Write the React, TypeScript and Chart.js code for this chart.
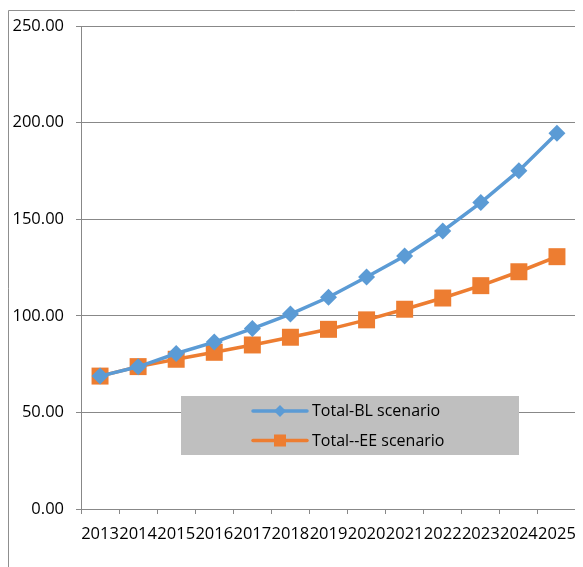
import { useEffect, useRef } from "react";
import { Chart, registerables } from "chart.js";

Chart.register(...registerables);

const years = ["2013", "2014", "2015", "2016", "2017", "2018", "2019", "2020", "2021", "2022", "2023", "2024", "2025"];
const blScenario = [68.8, 73.6, 80.5, 86.4, 93.4, 100.9, 109.6, 120.1, 131.0, 143.9, 158.6, 175.1, 194.5];
const eeScenario = [68.8, 73.7, 77.5, 81.1, 84.9, 88.9, 93.0, 97.9, 103.4, 109.2, 115.6, 122.8, 130.6];
const blLabel = "Total-BL scenario";
const eeLabel = "Total--EE scenario";

const BLUE = "#5b9bd5";
const ORANGE = "#ed7d31";
const GRID = "#888888";
const FONT = "'Open Sans', sans-serif";

// Frame around the chart and the grey legend panel inside the plot area.
const decorations = {
  id: "decorations",
  beforeDraw(chart: any) {
    const ctx = chart.ctx;
    ctx.save();
    ctx.strokeStyle = "#8f8f8f";
    ctx.lineWidth = 1;
    ctx.beginPath();
    ctx.moveTo(0.5, chart.height);
    ctx.lineTo(0.5, 2.5);
    ctx.lineTo(chart.width, 2.5);
    ctx.stroke();
    ctx.restore();
  },
  afterDraw(chart: any) {
    const ctx = chart.ctx;
    const x = 173, y = 388, w = 338, h = 59;
    ctx.save();
    ctx.fillStyle = "#bfbfbf";
    ctx.fillRect(x, y, w, h);
    const items = [
      { label: blLabel, color: BLUE, shape: "diamond" },
      { label: eeLabel, color: ORANGE, shape: "square" },
    ];
    items.forEach((it, i) => {
      const cy = y + 15 + i * 29.5;
      const x0 = 245, x1 = 299;
      ctx.strokeStyle = it.color;
      ctx.lineWidth = 3.5;
      ctx.lineCap = "round";
      ctx.beginPath();
      ctx.moveTo(x0, cy);
      ctx.lineTo(x1, cy);
      ctx.stroke();
      ctx.fillStyle = it.color;
      const mx = (x0 + x1) / 2;
      if (it.shape === "diamond") {
        const r = 6;
        ctx.beginPath();
        ctx.moveTo(mx, cy - r);
        ctx.lineTo(mx + r, cy);
        ctx.lineTo(mx, cy + r);
        ctx.lineTo(mx - r, cy);
        ctx.closePath();
        ctx.fill();
      } else {
        ctx.fillRect(mx - 6, cy - 6, 12, 12);
      }
      ctx.fillStyle = "#000000";
      ctx.font = `16px ${FONT}`;
      ctx.textBaseline = "middle";
      ctx.textAlign = "left";
      ctx.fillText(it.label, 304, cy + 0.5);
    });
    ctx.restore();
  },
};

export default function App() {
  const canvasRef = useRef<HTMLCanvasElement>(null);

  useEffect(() => {
    const canvas = canvasRef.current;
    if (!canvas) return;
    const chart = new Chart(canvas, {
      type: "line",
      data: {
        labels: years,
        datasets: [
          {
            label: blLabel,
            data: blScenario,
            borderColor: BLUE,
            backgroundColor: BLUE,
            borderWidth: 3.5,
            pointStyle: "rectRot",
            pointRadius: 8.5,
            pointBorderWidth: 0,
            pointBackgroundColor: BLUE,
            tension: 0,
          },
          {
            label: eeLabel,
            data: eeScenario,
            borderColor: ORANGE,
            backgroundColor: ORANGE,
            borderWidth: 3.5,
            pointStyle: "rect",
            pointRadius: 12,
            pointBorderWidth: 0,
            pointBackgroundColor: ORANGE,
            tension: 0,
          },
        ],
      },
      options: {
        animation: false,
        responsive: false,
        maintainAspectRatio: false,
        layout: { autoPadding: false, padding: { top: 18, right: 7, left: 0, bottom: 0 } },
        plugins: {
          legend: { display: false },
          tooltip: { enabled: false },
        },
        scales: {
          x: {
            offset: true,
            grid: {
              offset: true,
              drawOnChartArea: false,
              drawTicks: true,
              tickLength: 5,
              color: GRID,
            },
            border: { color: GRID, width: 1 },
            ticks: {
              autoSkip: false,
              maxRotation: 0,
              minRotation: 0,
              color: "#000000",
              font: { family: FONT, size: 16.5, lineHeight: 2.41 },
              padding: 0,
            },
            afterFit(scale: any) {
              scale.height = 58;
              scale.paddingLeft = 0;
              scale.paddingRight = 0;
            },
          },
          y: {
            min: 0,
            max: 250,
            grid: {
              color: GRID,
              tickLength: 5,
            },
            border: { color: GRID, width: 1 },
            ticks: {
              stepSize: 50,
              color: "#000000",
              font: { family: FONT, size: 16.5 },
              padding: 12,
              callback: (v: any) => Number(v).toFixed(2),
            },
            afterFit(scale: any) {
              scale.width = 73;
              scale.paddingTop = 4;
              scale.paddingBottom = 4;
            },
          },
        },
      },
      plugins: [decorations],
    });
    return () => chart.destroy();
  }, []);

  return (
    <div style={{ width: 575, height: 559 }}>
      <canvas ref={canvasRef} width={575} height={559} style={{ display: "block" }} />
    </div>
  );
}
